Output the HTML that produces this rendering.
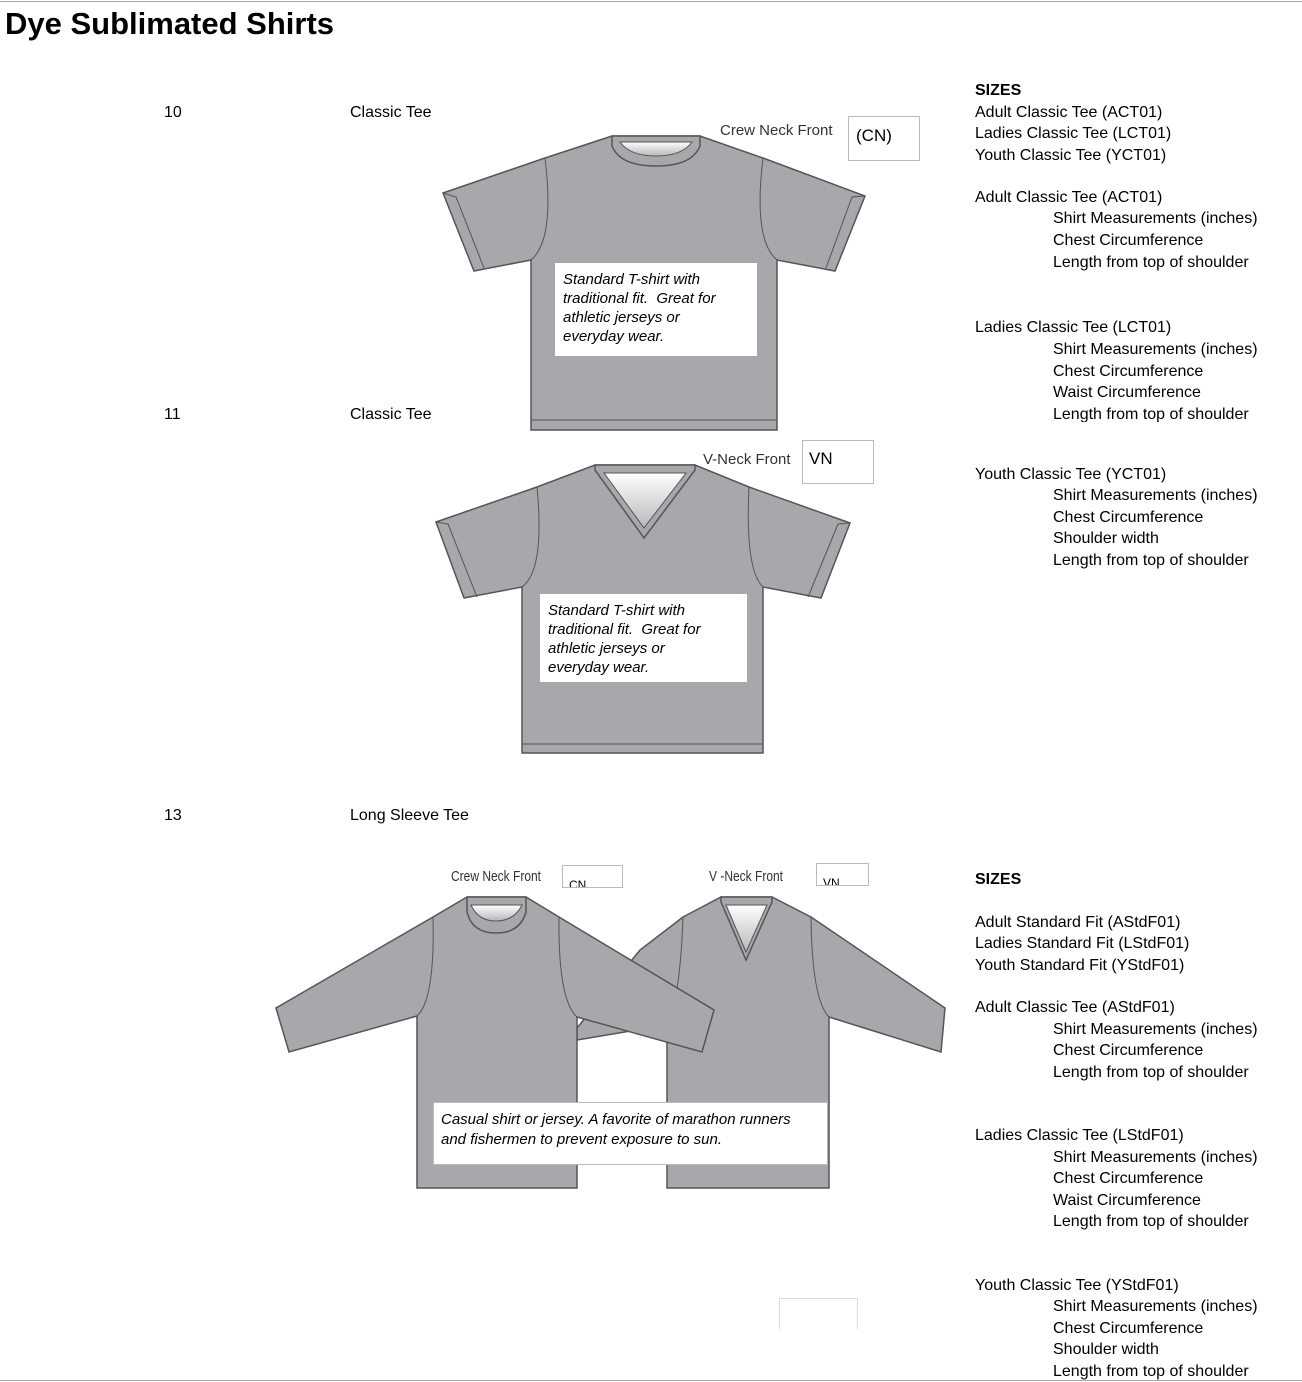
<!DOCTYPE html>
<html><head><meta charset="utf-8"><style>
body{margin:0;width:1302px;height:1382px;position:relative;background:#fff;font-family:"Liberation Sans",Arial,sans-serif;color:#000;overflow:hidden}
.t{position:absolute;font-size:16px;line-height:19px;white-space:nowrap}
.b{font-weight:bold}
.box{position:absolute;background:#fff;border:1px solid #bbb}
.it{position:absolute;font-style:italic;font-size:15px;line-height:19px;background:#fff}
svg{position:absolute;left:0;top:0}
</style></head><body>
<div style="position:absolute;left:0;top:1px;width:1302px;height:1px;background:#aaa"></div>
<div style="position:absolute;left:0;top:1380px;width:1302px;height:1px;background:#aaa"></div>
<div class="t b" style="left:5px;top:6px;font-size:31px;line-height:36px">Dye Sublimated Shirts</div>

<div class="t" style="left:164px;top:103px">10</div>
<div class="t" style="left:350px;top:103px">Classic Tee</div>
<div class="t" style="left:164px;top:405px">11</div>
<div class="t" style="left:350px;top:405px">Classic Tee</div>
<div class="t" style="left:164px;top:806px">13</div>
<div class="t" style="left:350px;top:806px">Long Sleeve Tee</div>

<svg width="1302" height="1382">
<defs><linearGradient id="g" x1="0" y1="0" x2="0" y2="1"><stop offset="0" stop-color="#fff"/><stop offset="1" stop-color="#b8b8ba"/></linearGradient></defs>
<g fill="#a7a8ab" stroke="#555" stroke-width="1.5">
<!-- shirt 1 -->
<path d="M545,158 L612,136 L700,136 L763,158 L865,196 L835,271 L777,260 L777,430 L531,430 L531,260 L474,271 L443,193 Z"/>
<path d="M612,136 L612,146 Q620,166 656,166 Q692,166 700,146 L700,136 Z"/>
<path d="M620,142 L692,142 Q682,156 656,156 Q630,156 620,142 Z" fill="url(#g)" stroke-width="1"/>
<path d="M545,158 Q555,240 531,260 M763,158 Q753,240 777,260 M443,193 L456,197 L484,268 M865,196 L852,197 L826,268 M531,420 L777,420" fill="none" stroke-width="1"/>
<!-- shirt 2 -->
<path d="M537,487 L595,465 L695,465 L749,487 L850,523 L821,598 L763,587 L763,753 L522,753 L522,587 L464,598 L436,522 Z"/>
<path d="M595,465 L695,465 L695,470 L644,538 L595,470 Z"/>
<path d="M604,473 L686,473 L644,528 Z" fill="url(#g)" stroke-width="1"/>
<path d="M537,487 Q545,570 522,587 M749,487 Q745,570 763,587 M436,522 L448,524 L477,597 M850,523 L838,524 L808,597 M522,744 L763,744" fill="none" stroke-width="1"/>
<!-- long sleeve V (behind) -->
<path d="M683,917 L721,897 L772,897 L811,917 L945,1008 L941,1052 L829,1017 L829,1188 L667,1188 L667,1025 L577,1040 L577,1028 L640,950 Z"/>
<path d="M721,897 L772,897 L772,902 L746,960 L721,902 Z"/>
<path d="M726,905 L767,905 L746,952 Z" fill="url(#g)" stroke-width="1"/>
<path d="M683,917 Q680,1000 667,1025 M811,917 Q812,1000 829,1017" fill="none" stroke-width="1"/>
<!-- long sleeve crew -->
<path d="M433,917 L467,897 L526,897 L559,917 L714,1010 L702,1052 L577,1017 L577,1188 L417,1188 L417,1016 L289,1052 L276,1008 Z"/>
<path d="M467,897 L526,897 L526,912 Q520,933 496,933 Q472,933 467,912 Z"/>
<path d="M471,905 L522,905 Q514,921 496,921 Q478,921 471,905 Z" fill="url(#g)" stroke-width="1"/>
<path d="M433,917 Q435,1000 417,1016 M559,917 Q558,1000 577,1017" fill="none" stroke-width="1"/>
</g>
</svg>

<div class="t" style="left:720px;top:121px;font-size:15px;color:#333">Crew Neck Front</div>
<div class="box" style="left:848px;top:116px;width:70px;height:43px"><span class="t" style="left:7px;top:9px;font-size:17px">(CN)</span></div>
<div class="t" style="left:703px;top:450px;font-size:15px;color:#333">V-Neck Front</div>
<div class="box" style="left:802px;top:440px;width:70px;height:42px"><span class="t" style="left:6px;top:8px;font-size:17px">VN</span></div>
<div class="t" style="left:451px;top:867px;font-size:15px;color:#333;transform:scaleX(0.8);transform-origin:left">Crew Neck Front</div>
<div class="box" style="left:562px;top:865px;width:59px;height:21px;overflow:hidden"><span class="t" style="left:6px;top:10px;font-size:12px">CN</span></div>
<div class="t" style="left:709px;top:867px;font-size:15px;color:#333;transform:scaleX(0.8);transform-origin:left">V -Neck Front</div>
<div class="box" style="left:816px;top:863px;width:51px;height:21px;overflow:hidden"><span class="t" style="left:6px;top:10px;font-size:12px">VN</span></div>
<div class="box" style="left:779px;top:1298px;width:77px;height:30px;border-color:#ddd;border-bottom:none"></div>

<div class="it" style="left:555px;top:263px;width:194px;height:86px;padding:7px 0 0 8px;line-height:19px">Standard T-shirt with<br>traditional fit.&nbsp; Great for<br>athletic jerseys or<br>everyday wear.</div>
<div class="it" style="left:540px;top:594px;width:199px;height:81px;padding:7px 0 0 8px;overflow:hidden">Standard T-shirt with<br>traditional fit.&nbsp; Great for<br>athletic jerseys or<br>everyday wear.</div>
<div class="it" style="left:433px;top:1102px;width:386px;height:54px;padding:7px 0 0 7px;border:1px solid #bbb;line-height:20px">Casual shirt or jersey. A favorite of marathon runners<br>and fishermen to prevent exposure to sun.</div>

<div class="t b" style="left:975px;top:81px">SIZES</div>
<div class="t" style="left:975px;top:103px">Adult Classic Tee (ACT01)</div>
<div class="t" style="left:975px;top:124px">Ladies Classic Tee (LCT01)</div>
<div class="t" style="left:975px;top:146px">Youth Classic Tee (YCT01)</div>
<div class="t" style="left:975px;top:188px">Adult Classic Tee (ACT01)</div>
<div class="t" style="left:1053px;top:209px">Shirt Measurements (inches)</div>
<div class="t" style="left:1053px;top:231px">Chest Circumference</div>
<div class="t" style="left:1053px;top:253px">Length from top of shoulder</div>
<div class="t" style="left:975px;top:318px">Ladies Classic Tee (LCT01)</div>
<div class="t" style="left:1053px;top:340px">Shirt Measurements (inches)</div>
<div class="t" style="left:1053px;top:362px">Chest Circumference</div>
<div class="t" style="left:1053px;top:383px">Waist Circumference</div>
<div class="t" style="left:1053px;top:405px;height:17px;overflow:hidden">Length from top of shoulder</div>
<div class="t" style="left:975px;top:465px">Youth Classic Tee (YCT01)</div>
<div class="t" style="left:1053px;top:486px">Shirt Measurements (inches)</div>
<div class="t" style="left:1053px;top:508px">Chest Circumference</div>
<div class="t" style="left:1053px;top:529px">Shoulder width</div>
<div class="t" style="left:1053px;top:551px">Length from top of shoulder</div>

<div class="t b" style="left:975px;top:870px">SIZES</div>
<div class="t" style="left:975px;top:913px">Adult Standard Fit (AStdF01)</div>
<div class="t" style="left:975px;top:934px">Ladies Standard Fit (LStdF01)</div>
<div class="t" style="left:975px;top:956px">Youth Standard Fit (YStdF01)</div>
<div class="t" style="left:975px;top:998px">Adult Classic Tee (AStdF01)</div>
<div class="t" style="left:1053px;top:1020px">Shirt Measurements (inches)</div>
<div class="t" style="left:1053px;top:1041px">Chest Circumference</div>
<div class="t" style="left:1053px;top:1063px">Length from top of shoulder</div>
<div class="t" style="left:975px;top:1126px">Ladies Classic Tee (LStdF01)</div>
<div class="t" style="left:1053px;top:1148px">Shirt Measurements (inches)</div>
<div class="t" style="left:1053px;top:1169px">Chest Circumference</div>
<div class="t" style="left:1053px;top:1191px">Waist Circumference</div>
<div class="t" style="left:1053px;top:1212px">Length from top of shoulder</div>
<div class="t" style="left:975px;top:1276px">Youth Classic Tee (YStdF01)</div>
<div class="t" style="left:1053px;top:1297px">Shirt Measurements (inches)</div>
<div class="t" style="left:1053px;top:1319px">Chest Circumference</div>
<div class="t" style="left:1053px;top:1340px">Shoulder width</div>
<div class="t" style="left:1053px;top:1362px">Length from top of shoulder</div>
</body></html>
